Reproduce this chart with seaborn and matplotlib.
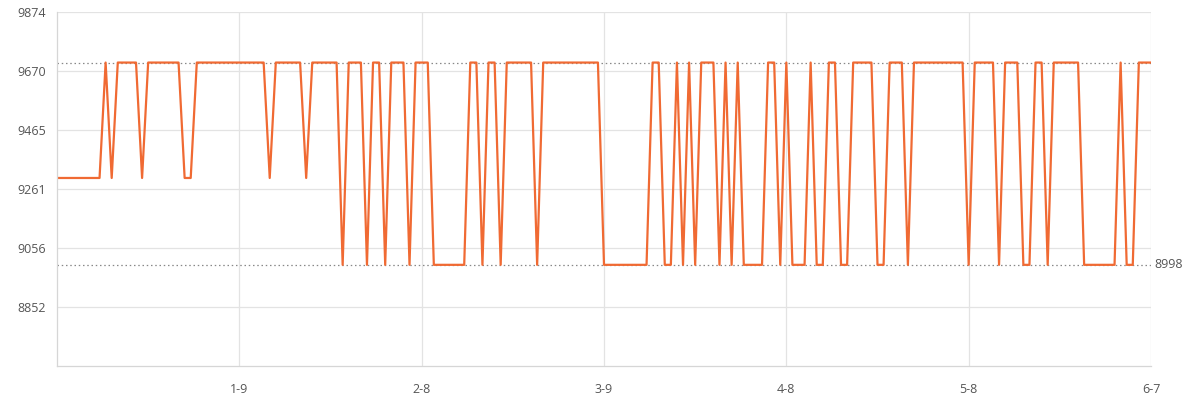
import pandas as pd
import numpy as np
import matplotlib
matplotlib.use('Agg')
import matplotlib.pyplot as plt
import seaborn as sns

# Price levels seen in the chart
HIGH = 9699
MID = 9299
LOW = 8998

# runs of (level, number of days)
runs = [
    (MID, 8), (HIGH, 1), (MID, 1), (HIGH, 4), (MID, 1), (HIGH, 6), (MID, 2),
    (HIGH, 12), (MID, 1), (HIGH, 5), (MID, 1), (HIGH, 5), (LOW, 1), (HIGH, 3),
    (LOW, 1), (HIGH, 2), (LOW, 1), (HIGH, 3), (LOW, 1), (HIGH, 3), (LOW, 6),
    (HIGH, 2), (LOW, 1), (HIGH, 2), (LOW, 1), (HIGH, 5), (LOW, 1), (HIGH, 10),
    (LOW, 8), (HIGH, 2), (LOW, 2), (HIGH, 1), (LOW, 1), (HIGH, 1), (LOW, 1),
    (HIGH, 3), (LOW, 1), (HIGH, 1), (LOW, 1), (HIGH, 1), (LOW, 4), (HIGH, 2),
    (LOW, 1), (HIGH, 1), (LOW, 3), (HIGH, 1), (LOW, 2), (HIGH, 2), (LOW, 2),
    (HIGH, 4), (LOW, 2), (HIGH, 3), (LOW, 1), (HIGH, 9), (LOW, 1), (HIGH, 4),
    (LOW, 1), (HIGH, 3), (LOW, 2), (HIGH, 2), (LOW, 1), (HIGH, 5), (LOW, 6),
    (HIGH, 1), (LOW, 2), (HIGH, 3),
]
prices = [lvl for lvl, n in runs for _ in range(n)]
dates = pd.date_range('2023-12-10', periods=len(prices), freq='D')

y_ticks = [8852, 9056, 9261, 9465, 9670, 9874]
y_min, y_max = 8647.4, 9874.2
x_tick_dates = dates[30::30]
x_tick_labels = [f'{d.month}-{d.day}' for d in x_tick_dates]

df = pd.DataFrame({'date': dates, 'price': prices})

sns.set_style('white')
plt.rcParams['font.family'] = ['Open Sans', 'DejaVu Sans']

fig = plt.figure(figsize=(11.94, 4.04), dpi=100)
ax = fig.add_axes([57 / 1194, 1 - 366 / 404, (1151 - 57) / 1194, (366 - 12) / 404])

sns.lineplot(data=df, x='date', y='price', ax=ax, color='#F06A33', linewidth=1.6)

# max / min reference lines
ax.axhline(df['price'].max(), color='#888888', linestyle=(0, (1.2, 2.2)), linewidth=0.9, zorder=1)
ax.axhline(df['price'].min(), color='#888888', linestyle=(0, (1.2, 2.2)), linewidth=0.9, zorder=1)
ax.text(1.003, df['price'].min(), str(df['price'].min()), transform=ax.get_yaxis_transform(),
        va='center', ha='left', fontsize=9, color='#555555')

ax.set_xlim(dates[0], dates[-1])
ax.set_ylim(y_min, y_max)
ax.set_yticks(y_ticks)
ax.set_yticklabels([str(v) for v in y_ticks])
ax.set_xticks(x_tick_dates)
ax.set_xticklabels(x_tick_labels)

ax.grid(True, color='#e3e3e3', linewidth=0.9)
ax.set_axisbelow(True)
ax.tick_params(axis='both', length=0, labelsize=9, labelcolor='#555555')
ax.tick_params(axis='x', pad=12)
ax.tick_params(axis='y', pad=8)
ax.set_xlabel('')
ax.set_ylabel('')

for side in ['top', 'right']:
    ax.spines[side].set_visible(False)
for side in ['left', 'bottom']:
    ax.spines[side].set_color('#d6d6d6')
    ax.spines[side].set_linewidth(0.9)

fig.savefig('out.png', dpi=100)
